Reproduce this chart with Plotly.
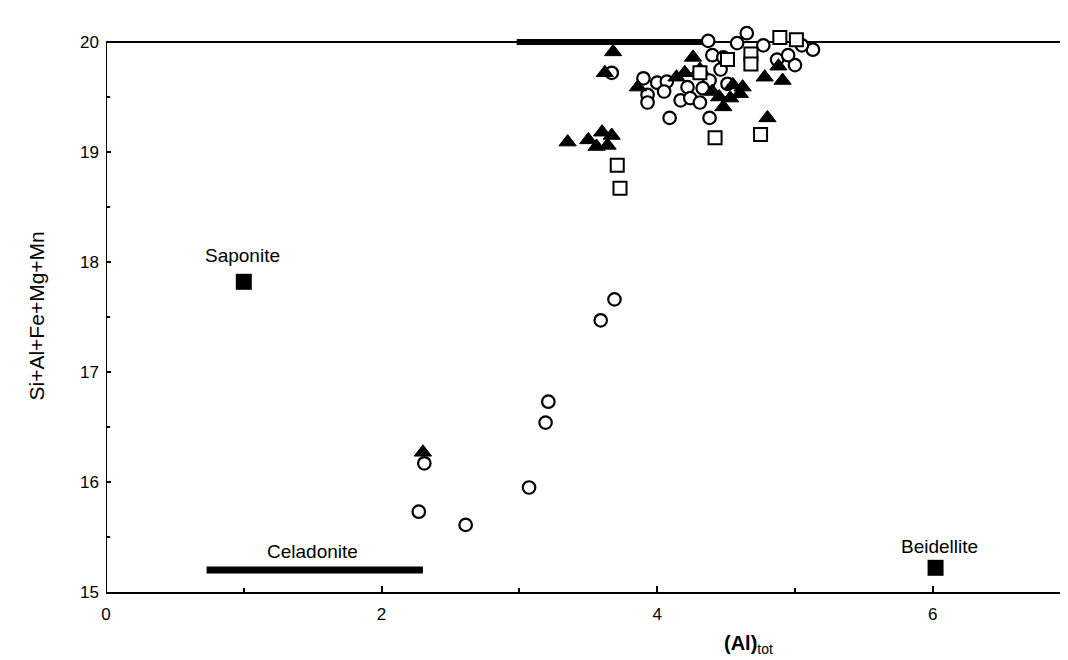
import plotly.graph_objects as go

# ---- data ----
tri_x = [3.68, 3.62, 3.35, 3.50, 3.60, 3.67, 3.56, 3.64, 3.86, 4.14, 4.26, 4.55, 4.62, 4.53,
         4.78, 4.91, 4.80, 4.48, 4.31, 4.40, 2.30, 4.45, 4.60, 4.20, 4.88]
tri_y = [19.91, 19.72, 19.09, 19.11, 19.18, 19.15, 19.05, 19.06, 19.59, 19.68, 19.86, 19.61, 19.59, 19.49,
         19.68, 19.65, 19.31, 19.41, 19.75, 19.55, 16.27, 19.50, 19.53, 19.72, 19.78]

circ_x = [3.67, 3.90, 4.00, 4.07, 3.93, 3.93, 4.09, 4.17, 4.22, 4.24, 4.31, 4.38, 4.38, 4.37, 4.65,
          4.58, 4.40, 4.48, 4.77, 4.87, 5.00, 5.13, 4.46, 4.33, 4.51, 4.05, 4.95, 5.05,
          3.69, 3.59, 3.21, 3.19, 3.07, 2.61, 2.27, 2.31]
circ_y = [19.72, 19.67, 19.63, 19.64, 19.52, 19.45, 19.31, 19.47, 19.59, 19.49, 19.45, 19.65, 19.31, 20.01, 20.08,
          19.99, 19.88, 19.86, 19.97, 19.84, 19.79, 19.93, 19.75, 19.58, 19.62, 19.55, 19.88, 19.97,
          17.66, 17.47, 16.73, 16.54, 15.95, 15.61, 15.73, 16.17]

sq_x = [3.71, 3.73, 4.42, 4.75, 4.89, 5.01, 4.51, 4.68, 4.68, 4.31]
sq_y = [18.88, 18.67, 19.13, 19.16, 20.04, 20.02, 19.84, 19.89, 19.80, 19.72]

ref_names = ["Saponite", "Beidellite"]
ref_x = [1.0, 6.02]
ref_y = [17.82, 15.22]

chlorite_x = [2.98, 4.36]
chlorite_y = [20.0, 20.0]
celadonite_x = [0.73, 2.30]
celadonite_y = [15.2, 15.2]

x_ticks = [0, 2, 4, 6]
y_ticks = [15, 16, 17, 18, 19, 20]
Y_MIN, Y_MAX = 15, 20

FONT = "Liberation Sans, Arial, sans-serif"
PX_PER_Y = 110
TOP_PAD = 0.1  # headroom above the frame so points just above 20 stay visible

fig = go.Figure()

fig.add_trace(go.Scatter(x=chlorite_x, y=chlorite_y, mode="lines",
                         line=dict(color="black", width=6), cliponaxis=False, showlegend=False))
fig.add_trace(go.Scatter(x=celadonite_x, y=celadonite_y, mode="lines",
                         line=dict(color="black", width=7), cliponaxis=False, showlegend=False))

fig.add_trace(go.Scatter(x=circ_x, y=circ_y, mode="markers", cliponaxis=False, showlegend=False,
                         marker=dict(symbol="circle", size=12.5, color="white",
                                     line=dict(width=2.2, color="black"))))
fig.add_trace(go.Scatter(x=tri_x, y=tri_y, mode="markers", cliponaxis=False, showlegend=False,
                         marker=dict(symbol="triangle-up", size=15, color="black",
                                     line=dict(width=1, color="black"))))
fig.add_trace(go.Scatter(x=sq_x, y=sq_y, mode="markers", cliponaxis=False, showlegend=False,
                         marker=dict(symbol="square", size=13, color="white",
                                     line=dict(width=2, color="black"))))
fig.add_trace(go.Scatter(x=ref_x, y=ref_y, mode="markers", cliponaxis=False, showlegend=False,
                         marker=dict(symbol="square", size=16, color="black")))

# frame: top line at y=20 and left line from 15 to 20
fig.add_shape(type="line", xref="paper", yref="y", x0=0, x1=1, y0=Y_MAX, y1=Y_MAX,
              line=dict(color="black", width=2), layer="below")
fig.add_shape(type="line", xref="x", yref="y", x0=0, x1=0, y0=Y_MIN, y1=Y_MAX,
              line=dict(color="black", width=2), layer="below")

labels = [
    ("Chlorite", 3.81, 20.165),
    ("Saponite", 0.99, 18.06),
    ("Celadonite", 1.50, 15.37),
    ("Beidellite", 6.05, 15.41),
]
for t, x, y in labels:
    fig.add_annotation(x=x, y=y, text=t, showarrow=False,
                       font=dict(family=FONT, size=19, color="black"))

plot_h = (Y_MAX + TOP_PAD - Y_MIN) * PX_PER_Y  # pixel height of plot area
fig.add_annotation(xref="paper", yref="paper", x=(775 - 106) / 962, y=(592 - 644) / plot_h,
                   text="<b>(Al)</b><sub>tot</sub>", showarrow=False, yanchor="middle",
                   font=dict(family=FONT, size=20, color="black"))
fig.add_annotation(xref="paper", yref="paper", x=(22 - 106) / 962, y=(592 - 316) / plot_h,
                   textangle=-90, text="Si+Al+Fe+Mg+Mn", showarrow=False,
                   font=dict(family=FONT, size=21, color="black"))

top_margin = 652 - 68 - plot_h
fig.update_layout(
    width=1060, height=652,
    margin=dict(l=98, r=0, t=top_margin, b=68),
    paper_bgcolor="white", plot_bgcolor="white",
    font=dict(family=FONT, size=17, color="black"),
    xaxis=dict(range=[0, 962 / 137.8], tickvals=x_ticks, ticktext=[str(v) for v in x_ticks],
               showgrid=False, zeroline=False, showline=True, linecolor="black", linewidth=2,
               mirror=False, ticks="inside", ticklen=6, tickwidth=1.5, tickcolor="black",
               ticklabelstandoff=6,
               minor=dict(tickvals=[1, 3, 5], ticks="inside", ticklen=4, tickcolor="black"),
               tickfont=dict(family=FONT, size=17)),
    yaxis=dict(range=[Y_MIN, Y_MAX + TOP_PAD], tickvals=y_ticks, ticktext=[str(v) for v in y_ticks],
               showgrid=False, zeroline=False, showline=False,
               ticks="inside", ticklen=5, tickwidth=1.5, tickcolor="black",
               ticklabelstandoff=6,
               minor=dict(tickvals=[15.5, 16.5, 17.5, 18.5, 19.5], ticks="inside", ticklen=4,
                          tickcolor="black"),
               tickfont=dict(family=FONT, size=17)),
)

fig.write_html("out.html")
